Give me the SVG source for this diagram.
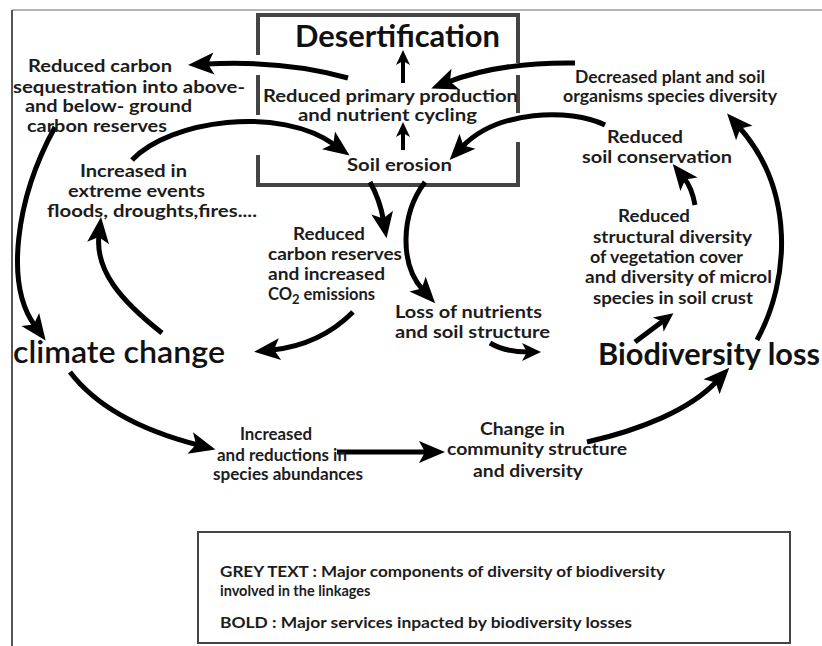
<svg xmlns="http://www.w3.org/2000/svg" width="822" height="646" viewBox="0 0 822 646">
  <style>
    .t { font-family: Lato, "Open Sans", "Liberation Sans", sans-serif; font-weight: 700; font-size: 16.5px; fill: #1c1c1c; }
    .lg { font-size: 14.5px; }
    .sub { font-size: 13px; }
    .big { font-weight: 700; font-size: 30px; fill: #111; }
    .cc { font-weight: 600; font-size: 30px; fill: #111; }
    .frame { fill: none; stroke-width: 2; }
    .box { fill: none; stroke: #444; stroke-width: 4; }
    .arr { fill: none; stroke: #000; stroke-width: 5; }
    .arr-s { fill: none; stroke: #000; stroke-width: 4; }
  </style>
  <defs>
    <marker id="head" markerUnits="userSpaceOnUse" markerWidth="40" markerHeight="40" viewBox="-20 -20 40 40" refX="0" refY="0" orient="auto" overflow="visible">
      <path d="M18,0 L-8,-11 L-2,0 L-8,11 Z" fill="#000"/>
    </marker>
    <marker id="head-m" markerUnits="userSpaceOnUse" markerWidth="40" markerHeight="40" viewBox="-20 -20 40 40" refX="0" refY="0" orient="auto" overflow="visible">
      <path d="M13,0 L-6,-9 L-1,0 L-6,9 Z" fill="#000"/>
    </marker>
    <marker id="head-s" markerUnits="userSpaceOnUse" markerWidth="30" markerHeight="30" viewBox="-15 -15 30 30" refX="0" refY="0" orient="auto" overflow="visible">
      <path d="M10,0 L-5,-7 L-1,0 L-5,7 Z" fill="#000"/>
    </marker>
  </defs>

  <rect width="822" height="646" fill="#fff"/>

  <!-- outer frame: top and left edges only -->
  <line class="frame" x1="12" y1="10" x2="822" y2="10" stroke="#b4b4b4"/>
  <line class="frame" x1="12" y1="10" x2="12" y2="646" stroke="#555"/>

  <!-- desertification box, open where the arrows pass -->
  <g id="desertification-box">
    <path class="box" d="M256,15 H520 M258,13 V55 M258,75 V115 M258,155 V187 M518,13 V63 M518,75 V113 M518,142 V187 M256,185 H520"/>
  </g>

  <g id="connectors">
    <!-- inside the box -->
    <path class="arr-s" d="M403,83 L403,60" marker-end="url(#head-s)"/>
    <path class="arr-s" d="M403,150 L403,132" marker-end="url(#head-s)"/>
    <!-- primary production -> carbon sequestration -->
    <path class="arr" d="M348,78 Q285,60 206,64" marker-end="url(#head)"/>
    <!-- plant & soil diversity -> primary production -->
    <path class="arr" d="M575,63 Q500,62 448,82" marker-end="url(#head)"/>
    <!-- soil conservation -> soil erosion -->
    <path class="arr" d="M605,125 C570,108 497,110 462,147" marker-end="url(#head)"/>
    <!-- extreme events -> soil erosion -->
    <path class="arr" d="M132,160 C170,120 280,105 335,145" marker-end="url(#head)"/>
    <!-- carbon reserves -> climate change -->
    <path class="arr" d="M55,127 C15,200 5,285 35,326" marker-end="url(#head)"/>
    <!-- climate change -> extreme events -->
    <path class="arr" d="M162,333 C120,300 95,270 99,235" marker-end="url(#head)"/>
    <!-- CO2 emissions -> climate change -->
    <path class="arr" d="M353,312 Q320,345 272,350" marker-end="url(#head)"/>
    <!-- soil erosion -> carbon reserves -->
    <path class="arr" d="M370,182 Q380,200 383.5,220.5" marker-end="url(#head)"/>
    <!-- soil erosion -> loss of nutrients -->
    <path class="arr" d="M425,182 C400,215 400,265 423,290" marker-end="url(#head)"/>
    <!-- soil structure -> biodiversity loss -->
    <path class="arr" d="M490,343 Q505,352 528,352" marker-end="url(#head-m)"/>
    <!-- biodiversity loss -> structural diversity -->
    <path class="arr" d="M635,342 L663,321" marker-end="url(#head-m)"/>
    <!-- structural diversity -> soil conservation -->
    <path class="arr" d="M695,205 Q692,188 684,178" marker-end="url(#head)"/>
    <!-- biodiversity loss -> species diversity -->
    <path class="arr" d="M757,340 C790,280 795,190 739,127" marker-end="url(#head)"/>
    <!-- climate change -> species abundances -->
    <path class="arr" d="M70,372 C95,405 140,430 198,445" marker-end="url(#head)"/>
    <!-- species abundances -> community structure -->
    <path class="arr" d="M337,452 L427,452" marker-end="url(#head)"/>
    <!-- community structure -> biodiversity loss -->
    <path class="arr" d="M587,442 C640,430 690,410 717,381" marker-end="url(#head)"/>
  </g>

  <g id="desertification">
    <text class="t big" x="295" y="47" textLength="205" lengthAdjust="spacingAndGlyphs">Desertification</text>
  </g>

  <g id="primary-production">
    <text class="t" x="263" y="102" textLength="255" lengthAdjust="spacingAndGlyphs">Reduced primary production</text>
    <text class="t" x="298" y="121" textLength="179" lengthAdjust="spacingAndGlyphs">and nutrient cycling</text>
  </g>

  <g id="soil-erosion">
    <text class="t" x="347" y="171" textLength="105" lengthAdjust="spacingAndGlyphs">Soil erosion</text>
  </g>

  <g id="carbon-sequestration">
    <text class="t" x="28" y="72" textLength="144" lengthAdjust="spacingAndGlyphs">Reduced carbon</text>
    <text class="t" x="13" y="93" textLength="232" lengthAdjust="spacingAndGlyphs">sequestration into above-</text>
    <text class="t" x="25" y="112" textLength="167" lengthAdjust="spacingAndGlyphs">and below- ground</text>
    <text class="t" x="27" y="132" textLength="140" lengthAdjust="spacingAndGlyphs">carbon reserves</text>
  </g>

  <g id="extreme-events">
    <text class="t" x="80" y="177" textLength="107" lengthAdjust="spacingAndGlyphs">Increased in</text>
    <text class="t" x="68" y="197" textLength="137" lengthAdjust="spacingAndGlyphs">extreme events</text>
    <text class="t" x="47" y="217" textLength="210" lengthAdjust="spacingAndGlyphs">floods, droughts,fires....</text>
  </g>

  <g id="carbon-emissions">
    <text class="t" x="293" y="240" textLength="72" lengthAdjust="spacingAndGlyphs">Reduced</text>
    <text class="t" x="268" y="260" textLength="134" lengthAdjust="spacingAndGlyphs">carbon reserves</text>
    <text class="t" x="268" y="280" textLength="117" lengthAdjust="spacingAndGlyphs">and increased</text>
    <text class="t" x="268" y="300">CO<tspan class="sub" dy="4">2</tspan><tspan dy="-4"> emissions</tspan></text>
  </g>

  <g id="nutrient-loss">
    <text class="t" x="395" y="318" textLength="147" lengthAdjust="spacingAndGlyphs">Loss of nutrients</text>
    <text class="t" x="395" y="338" textLength="155" lengthAdjust="spacingAndGlyphs">and soil structure</text>
  </g>

  <g id="climate-change">
    <text class="t cc" x="13" y="363" textLength="212" lengthAdjust="spacingAndGlyphs">climate change</text>
  </g>

  <g id="biodiversity-loss">
    <text class="t big" x="598" y="365" textLength="222" lengthAdjust="spacingAndGlyphs">Biodiversity loss</text>
  </g>

  <g id="species-diversity">
    <text class="t" x="575" y="83" textLength="190" lengthAdjust="spacingAndGlyphs">Decreased plant and soil</text>
    <text class="t" x="563" y="102" textLength="214" lengthAdjust="spacingAndGlyphs">organisms species diversity</text>
  </g>

  <g id="soil-conservation">
    <text class="t" x="607" y="143" textLength="76" lengthAdjust="spacingAndGlyphs">Reduced</text>
    <text class="t" x="582" y="163" textLength="150" lengthAdjust="spacingAndGlyphs">soil conservation</text>
  </g>

  <g id="structural-diversity">
    <text class="t" x="618" y="222" textLength="72" lengthAdjust="spacingAndGlyphs">Reduced</text>
    <text class="t" x="593" y="243" textLength="159" lengthAdjust="spacingAndGlyphs">structural diversity</text>
    <text class="t" x="590" y="263" textLength="153" lengthAdjust="spacingAndGlyphs">of vegetation cover</text>
    <text class="t" x="585" y="283" textLength="187" lengthAdjust="spacingAndGlyphs">and diversity of microl</text>
    <text class="t" x="593" y="304" textLength="160" lengthAdjust="spacingAndGlyphs">species in soil crust</text>
  </g>

  <g id="species-abundances">
    <text class="t" x="240" y="440" textLength="72" lengthAdjust="spacingAndGlyphs">Increased</text>
    <text class="t" x="217" y="461" textLength="130" lengthAdjust="spacingAndGlyphs">and reductions in</text>
    <text class="t" x="213" y="480" textLength="150" lengthAdjust="spacingAndGlyphs">species abundances</text>
  </g>

  <g id="community-structure">
    <text class="t" x="480" y="435" textLength="85" lengthAdjust="spacingAndGlyphs">Change in</text>
    <text class="t" x="447" y="455" textLength="180" lengthAdjust="spacingAndGlyphs">community structure</text>
    <text class="t" x="473" y="477" textLength="110" lengthAdjust="spacingAndGlyphs">and diversity</text>
  </g>

  <g id="legend">
    <rect x="198" y="532" width="592" height="111" fill="none" stroke="#444" stroke-width="2"/>
    <text class="t lg" x="220" y="577" textLength="445" lengthAdjust="spacingAndGlyphs">GREY TEXT :  Major components of diversity of biodiversity</text>
    <text class="t lg" x="220" y="596">involved in the linkages</text>
    <text class="t lg" x="220" y="628" textLength="412" lengthAdjust="spacingAndGlyphs">BOLD : Major services inpacted by biodiversity losses</text>
  </g>
</svg>
